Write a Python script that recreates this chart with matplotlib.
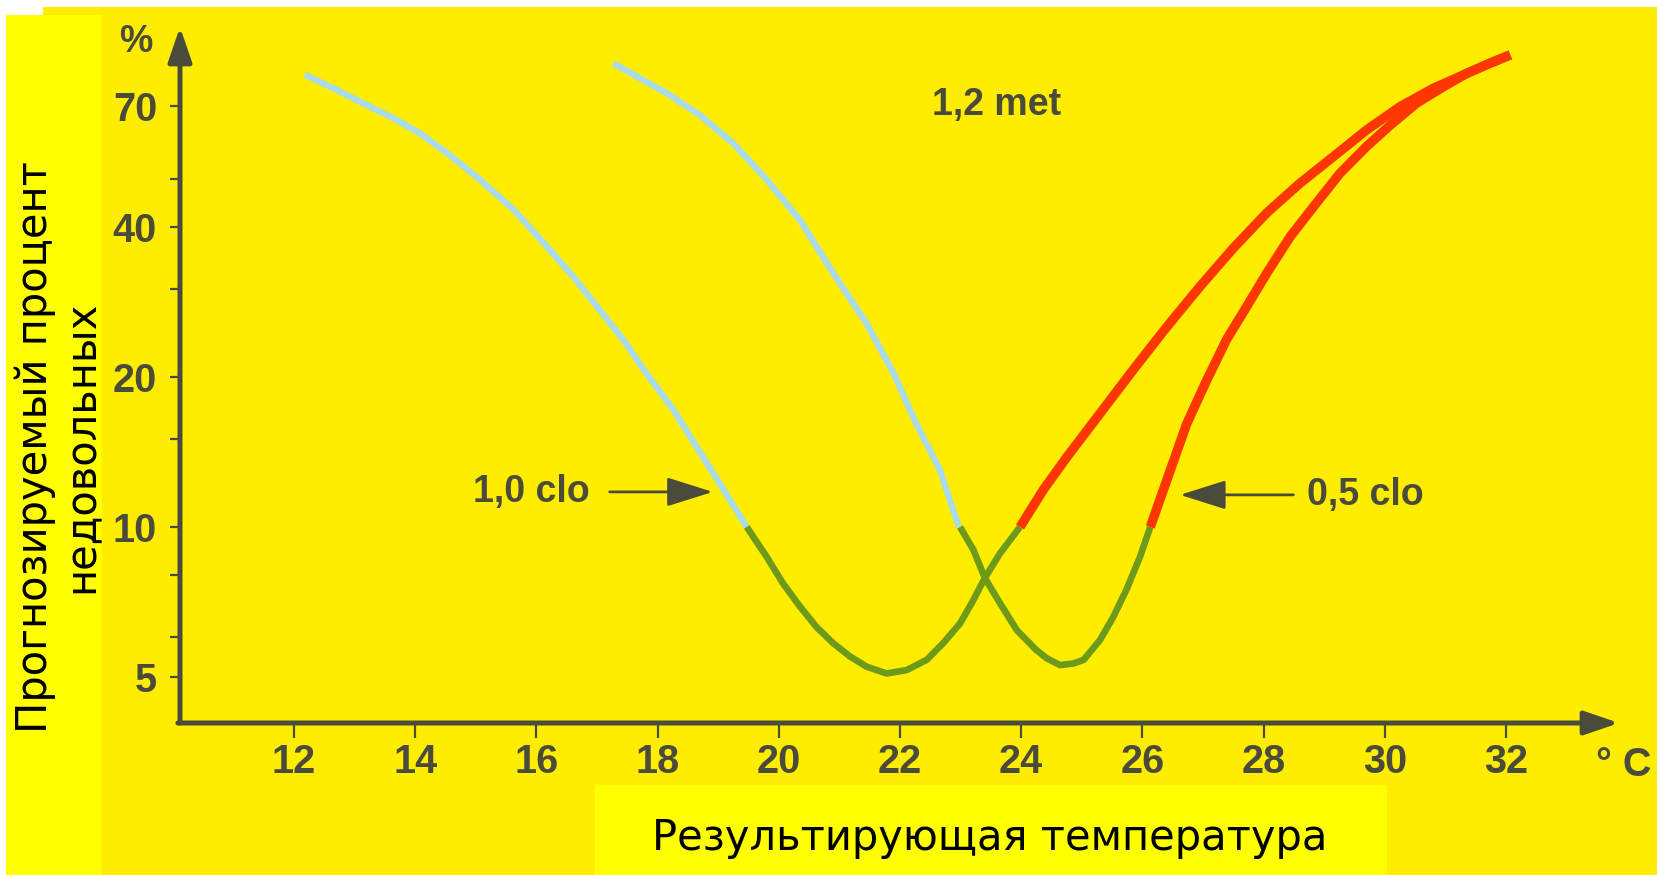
import matplotlib
matplotlib.use('Agg')
import matplotlib.pyplot as plt
from matplotlib import font_manager
from matplotlib.patches import Rectangle
from matplotlib.ticker import FixedLocator, NullFormatter

# ---------------- data ----------------
x_ticks = [12, 14, 16, 18, 20, 22, 24, 26, 28, 30, 32]
x_tick_labels = [str(v) for v in x_ticks]
y_major = [5, 10, 20, 40, 70]
y_major_labels = ['5', '10', '20', '40', '70']
y_minor = [6, 8, 15, 30, 50]

# 1,0 clo curve
clo10_cold_x = [12.18, 12.65, 13.14, 13.64, 14.08, 14.57, 15.07, 15.62, 16.17, 16.61,
                17.00, 17.43, 17.82, 18.26, 18.64, 19.03, 19.47]
clo10_cold_y = [80.9, 76.0, 70.9, 66.2, 61.7, 55.8, 49.8, 43.4, 36.6, 31.8,
                27.7, 23.8, 20.3, 17.2, 14.5, 12.2, 10.0]
clo10_neutral_x = [19.47, 19.80, 20.07, 20.35, 20.62, 20.90, 21.17, 21.45, 21.78, 22.11,
                   22.44, 22.71, 22.99, 23.21, 23.40, 23.65, 23.98]
clo10_neutral_y = [10.0, 8.71, 7.7, 6.92, 6.3, 5.84, 5.5, 5.24, 5.08, 5.16,
                   5.41, 5.84, 6.4, 7.13, 7.9, 8.85, 10.0]
clo10_warm_x = [23.98, 24.37, 24.75, 25.30, 25.85, 26.40, 26.95, 27.50, 28.05, 28.60,
                29.15, 29.70, 30.25, 30.80, 31.35, 31.73, 32.07]
clo10_warm_y = [10.0, 11.9, 13.8, 16.9, 20.7, 25.2, 30.4, 36.3, 42.7, 49.0,
                55.4, 62.7, 69.8, 76.0, 81.4, 85.3, 88.7]

# 0,5 clo curve
clo05_cold_x = [17.27, 17.71, 18.15, 18.70, 19.25, 19.80, 20.35, 20.90, 21.45, 21.89,
                22.27, 22.66, 22.97]
clo05_cold_y = [85.3, 79.6, 74.3, 67.1, 58.9, 49.8, 41.3, 32.3, 25.6, 20.4,
                16.1, 13.0, 10.0]
clo05_neutral_x = [22.99, 23.21, 23.40, 23.65, 23.93, 24.25, 24.42, 24.64, 24.86, 25.03,
                   25.30, 25.52, 25.74, 25.96, 26.13]
clo05_neutral_y = [10.0, 9.0, 7.9, 7.03, 6.2, 5.66, 5.45, 5.28, 5.32, 5.41,
                   5.93, 6.6, 7.5, 8.71, 10.0]
clo05_warm_x = [26.13, 26.46, 26.73, 27.06, 27.39, 27.72, 28.05, 28.44, 28.87, 29.26,
                29.70, 30.09, 30.52, 30.97, 31.35, 31.73, 32.07]
clo05_warm_y = [10.0, 13.0, 16.1, 19.7, 23.8, 27.7, 32.3, 38.3, 44.7, 51.3,
                58.1, 64.1, 70.9, 76.6, 81.4, 85.3, 88.7]

# ---------------- style ----------------
AREA = '#ffed00'
BOX = '#ffff00'
INK = '#4b4b3b'
BLUE = '#a9dbea'
GREEN = '#6e9a1c'
RED = '#ff3600'
BOLD_FAMILY = ['Liberation Sans', 'DejaVu Sans']
LABEL_FAMILY = ['DejaVu Sans']
LABEL_SIZE = 30

W, H = 1657, 875
fig = plt.figure(figsize=(W / 100, H / 100), dpi=100, facecolor='white')

# background panels (pixel coordinates)
bg = fig.add_axes([0, 0, 1, 1], zorder=-5)
bg.set_xlim(0, W)
bg.set_ylim(H, 0)
bg.axis('off')
bg.add_patch(Rectangle((43, 7), W - 43, H - 7, color=AREA, lw=0))
bg.add_patch(Rectangle((6, 15), 96, H - 15, color=BOX, lw=0))
bg.add_patch(Rectangle((595, 785), 792, H - 785, color=BOX, lw=0))

# main axes
ax_l, ax_r, ax_t, ax_b = 180, 1619, 27, 723
ax = fig.add_axes([ax_l / W, (H - ax_b) / H, (ax_r - ax_l) / W, (ax_b - ax_t) / H], zorder=2)
ax.patch.set_alpha(0)
ax.set_yscale('log')
ax.set_xlim(10.119, 33.864)
ax.set_ylim(4.04, 100.9)
for s in ax.spines.values():
    s.set_visible(False)

ax.set_xticks(x_ticks)
ax.set_xticklabels(x_tick_labels, fontfamily=BOLD_FAMILY, fontweight='bold', fontsize=28.5, color=INK)
ax.yaxis.set_major_locator(FixedLocator(y_major))
ax.set_yticklabels(y_major_labels, fontfamily=BOLD_FAMILY, fontweight='bold', fontsize=28.5, color=INK)
ax.yaxis.set_minor_locator(FixedLocator(y_minor))
ax.yaxis.set_minor_formatter(NullFormatter())
ax.xaxis.set_minor_locator(FixedLocator([]))
ax.tick_params(axis='x', which='major', direction='out', length=10.5, width=1.6, color=INK, pad=4)
ax.tick_params(axis='y', which='both', direction='out', length=7.5, width=1.6, color=INK, pad=9)

# axis arrows
arrow_kw = dict(arrowstyle='-|>,head_length=0.7,head_width=0.24', mutation_scale=30,
                lw=3.6, color=INK, shrinkA=0, shrinkB=0)
ax.annotate('', xy=(1, 0), xytext=(-0.0015, 0), xycoords='axes fraction',
            arrowprops=arrow_kw, annotation_clip=False)
ax.annotate('', xy=(0, 1), xytext=(0, 0), xycoords='axes fraction',
            arrowprops=arrow_kw, annotation_clip=False)

# curves
line_kw = dict(solid_capstyle='butt', solid_joinstyle='round')
ax.plot(clo10_cold_x, clo10_cold_y, color=BLUE, lw=4.6, **line_kw)
ax.plot(clo05_cold_x, clo05_cold_y, color=BLUE, lw=4.6, **line_kw)
ax.plot(clo10_neutral_x, clo10_neutral_y, color=GREEN, lw=4.8, **line_kw)
ax.plot(clo05_neutral_x, clo05_neutral_y, color=GREEN, lw=4.8, **line_kw)
ax.plot(clo10_warm_x, clo10_warm_y, color=RED, lw=6.8, **line_kw)
ax.plot(clo05_warm_x, clo05_warm_y, color=RED, lw=6.8, **line_kw)

# annotations
txt_kw = dict(fontfamily=BOLD_FAMILY, fontweight='bold', fontsize=27, color=INK)
ax.text(23.6, 70.3, '1,2 met', ha='center', va='center', **txt_kw)
ax.text(16.88, 11.76, '1,0 clo', ha='right', va='center', **txt_kw)
ax.text(28.72, 11.6, '0,5 clo', ha='left', va='center', **txt_kw)
small_arrow = dict(arrowstyle='-|>,head_length=0.95,head_width=0.3', mutation_scale=30,
                   lw=2.0, color=INK, shrinkA=0, shrinkB=0)
ax.annotate('', xy=(18.91, 11.76), xytext=(17.21, 11.76), arrowprops=small_arrow)
ax.annotate('', xy=(26.62, 11.6), xytext=(28.49, 11.6), arrowprops=small_arrow)

# unit labels
fig.text(136 / W, 1 - 42 / H, '%', ha='center', va='center', **txt_kw)
fig.text(1624 / W, 1 - 765 / H, '° C', ha='center', va='center',
         fontfamily=BOLD_FAMILY, fontweight='bold', fontsize=28.5, color=INK)

# axis titles
fig.text(990 / W, 1 - 850 / H, 'Результирующая температура', ha='center', va='baseline',
         fontfamily=LABEL_FAMILY, fontsize=LABEL_SIZE, color='black')
fig.text(47 / W, 1 - 447 / H, 'Прогнозируемый процент', ha='center', va='baseline',
         rotation=90, rotation_mode='anchor',
         fontfamily=LABEL_FAMILY, fontsize=LABEL_SIZE, color='black')
fig.text(93 / W, 1 - 447 / H, 'недовольных', ha='center', va='baseline',
         rotation=90, rotation_mode='anchor',
         fontfamily=LABEL_FAMILY, fontsize=LABEL_SIZE, color='black')

fig.savefig('out.png', dpi=100, facecolor='white')
